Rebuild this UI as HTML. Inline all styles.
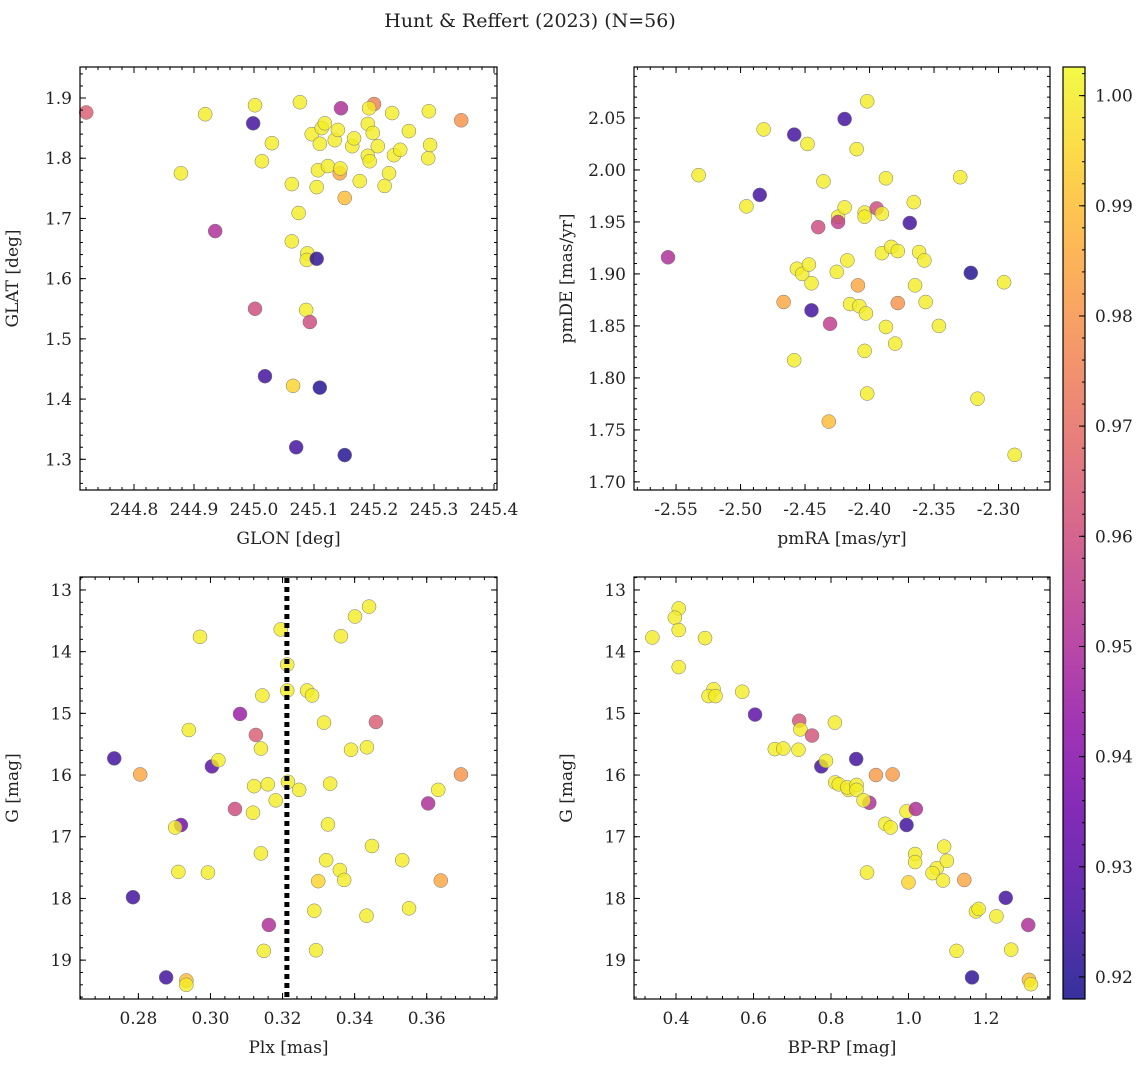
<!DOCTYPE html>
<html><head><meta charset="utf-8"><style>
body{margin:0;background:#fff;}
svg{font-family:"DejaVu Serif","Liberation Serif",serif;}
text{fill:#222;}
</style></head><body>
<svg id="c" width="1148" height="1067" viewBox="0 0 1148 1067" xmlns="http://www.w3.org/2000/svg">
<text x="530" y="27" text-anchor="middle" font-size="19">Hunt &amp; Reffert (2023) (N=56)</text>
</svg>
<script>
// Panel 1: GLON / GLAT / prob
const p1GLON=[244.7204,244.9187,244.8782,244.9353,244.9986,245.0017,245.0132,245.0298,245.0765,245.063,245.0744,245.063,245.0889,245.0879,245.1045,245.0962,245.1066,245.1045,245.1097,245.1128,245.118,245.1232,245.1346,245.1398,245.1429,245.144,245.145,245.1512,245.1637,245.1668,245.1762,245.1897,245.1897,245.1928,245.198,245.2001,245.1918,245.2063,245.2177,245.225,245.2302,245.2333,245.2437,245.2582,245.2914,245.2904,245.2935,245.3454,245.0869,245.0017,245.0931,245.0183,245.0651,245.1097,245.0703,245.1512];
const p1GLAT=[1.876,1.873,1.775,1.679,1.858,1.888,1.795,1.825,1.893,1.757,1.709,1.662,1.642,1.631,1.633,1.840,1.780,1.752,1.824,1.850,1.858,1.787,1.830,1.847,1.775,1.783,1.883,1.734,1.820,1.833,1.762,1.857,1.804,1.795,1.842,1.890,1.883,1.820,1.754,1.775,1.875,1.805,1.814,1.845,1.878,1.800,1.822,1.863,1.548,1.550,1.528,1.438,1.422,1.419,1.320,1.307];
const p1P=[0.965,1,1,0.95,0.925,1,1,1,1,1,1,1,1,1,0.922,1,1,1,1,1,1,1,1,1,0.985,1,0.95,0.99,1,1,1,1,1,1,1,0.975,1,1,1,1,1,1,1,1,1,1,1,0.98,1,0.96,0.96,0.925,0.995,0.92,0.925,0.92];
// Panel 2: pmRA / pmDE / prob
const p2RA=[-2.5562,-2.5325,-2.4954,-2.4821,-2.4851,-2.4584,-2.4481,-2.4563,-2.4522,-2.447,-2.445,-2.445,-2.4666,-2.4584,-2.4357,-2.4398,-2.4306,-2.4254,-2.4244,-2.4244,-2.4193,-2.4193,-2.4172,-2.4151,-2.41,-2.409,-2.4079,-2.4038,-2.4038,-2.4038,-2.4028,-2.4018,-2.4018,-2.3945,-2.3904,-2.3904,-2.3873,-2.3873,-2.3832,-2.3801,-2.3781,-2.3781,-2.3688,-2.3657,-2.3647,-2.3616,-2.3575,-2.3565,-2.3462,-2.3297,-2.3215,-2.3163,-2.2957,-2.2875,-2.4316];
const p2DE=[1.916,1.995,1.965,2.039,1.976,2.034,2.025,1.905,1.900,1.909,1.891,1.865,1.873,1.817,1.989,1.945,1.852,1.902,1.955,1.950,1.964,2.049,1.913,1.871,2.020,1.889,1.869,1.959,1.955,1.826,1.862,2.066,1.785,1.963,1.920,1.958,1.849,1.992,1.926,1.833,1.922,1.872,1.949,1.969,1.889,1.921,1.913,1.873,1.850,1.993,1.901,1.780,1.892,1.726,1.758];
const p2P=[0.95,1,1,1,0.925,0.925,1,1,1,1,1,0.925,0.985,1,1,0.96,0.955,1,1,0.955,1,0.925,1,1,1,0.985,1,1,1,1,1,1,1,0.96,1,1,1,1,1,1,1,0.98,0.925,1,1,1,1,1,1,1,0.92,1,1,1,0.99];
// Panel 3: Plx / G / prob
const p3PLX=[0.2733,0.2805,0.2785,0.2877,0.2918,0.2902,0.2911,0.2933,0.2933,0.2940,0.2971,0.2993,0.3004,0.3022,0.3082,0.3068,0.3118,0.3126,0.3121,0.3140,0.3144,0.3140,0.3148,0.3159,0.3162,0.3181,0.3195,0.3213,0.3213,0.3215,0.3246,0.3268,0.3282,0.3288,0.3293,0.3299,0.3315,0.3326,0.3321,0.3332,0.3359,0.3362,0.3371,0.3390,0.3401,0.3440,0.3434,0.3459,0.3448,0.3433,0.3532,0.3551,0.3604,0.3632,0.3639,0.3695];
const p3G=[15.73,15.99,17.98,19.28,16.81,16.85,17.57,19.33,19.40,15.27,13.76,17.58,15.86,15.76,15.01,16.55,16.61,15.35,16.18,15.57,14.71,17.27,18.85,16.15,18.43,16.41,13.64,14.21,14.63,16.11,16.24,14.63,14.71,18.20,18.84,17.72,15.15,16.80,17.38,16.14,17.54,13.75,17.70,15.59,13.43,13.27,15.55,15.14,17.15,18.28,17.38,18.16,16.46,16.24,17.71,15.99];
const p3P=[0.925,0.985,0.925,0.925,0.935,1,1,0.99,1,1,1,1,0.93,1,0.945,0.96,1,0.965,1,1,1,1,1,1,0.95,1,1,1,1,1,1,1,1,1,1,0.995,1,1,1,1,1,1,1,1,1,1,1,0.965,1,1,1,1,0.95,1,0.985,0.98];
// Panel 4: BP-RP / G / prob
const p4BPRP=[0.339,0.407,0.397,0.407,0.475,0.407,0.497,0.484,0.502,0.571,0.604,0.718,0.721,0.751,0.810,0.655,0.677,0.716,0.775,0.787,0.865,0.916,0.959,0.811,0.820,0.845,0.842,0.866,0.866,0.899,0.884,0.995,1.019,0.995,0.940,0.954,1.092,1.017,1.017,1.073,1.062,1.099,1.089,1.0,0.893,1.144,1.251,1.174,1.181,1.227,1.309,1.124,1.265,1.164,1.311,1.316];
const p4G=[13.77,13.30,13.45,13.65,13.78,14.25,14.61,14.72,14.72,14.65,15.02,15.12,15.26,15.36,15.15,15.58,15.57,15.59,15.86,15.77,15.74,16.0,15.99,16.12,16.15,16.24,16.20,16.16,16.24,16.45,16.41,16.59,16.55,16.81,16.79,16.85,17.16,17.28,17.41,17.51,17.59,17.39,17.71,17.74,17.58,17.70,17.99,18.21,18.17,18.29,18.43,18.85,18.83,19.28,19.32,19.39];
const p4P=[1,1,1,1,1,1,1,1,1,1,0.93,0.962,1,0.962,1,1,1,1,0.925,1,0.925,0.982,0.982,1,1,1,1,1,1,0.95,1,1,0.95,0.925,1,1,1,1,1,1,1,1,1,0.995,1,0.985,0.925,1,1,1,0.95,1,1,0.922,0.99,1];
const cbTicks=[0.92,0.93,0.94,0.95,0.96,0.97,0.98,0.99,1.00];
const plxLine=0.3212;

const NS="http://www.w3.org/2000/svg";
const svg=document.getElementById('c');
function el(t,a,p){const e=document.createElementNS(NS,t);for(const k in a)e.setAttribute(k,a[k]);(p||svg).appendChild(e);return e;}
const VMIN=0.918,VMAX=1.0026;
const stops=["#0d0887","#41049d","#6a00a8","#8f0da4","#b12a90","#cc4778","#e16462","#f2844b","#fca636","#fcce25","#f0f921"];
function hx(h){return[1,3,5].map(i=>parseInt(h.substr(i,2),16));}
function plasma(t){t=Math.max(0,Math.min(1,t));const f=t*10,i=Math.min(9,Math.floor(f)),r=f-i;const a=hx(stops[i]),b=hx(stops[i+1]);return 'rgb('+a.map((v,k)=>Math.round(v+(b[k]-v)*r)).join(',')+')';}
function cmap(v){return plasma((v-VMIN)/(VMAX-VMIN));}

function panel(name,box,xd,yd,xmaj,xmin,ymaj,ymin,xfmt,yfmt,xs,ys,ps,xl,yl){
  const [L,T,R,B]=box;
  const X=v=>L+(v-xd[0])/(xd[1]-xd[0])*(R-L);
  const Y=v=>B-(v-yd[0])/(yd[1]-yd[0])*(B-T);
  const g=el('g',{});
  
  
  const pts=el('g',{},g);
  
  
  for(let i=0;i<xs.length;i++){
    const c=el('circle',{cx:X(xs[i]),cy:Y(ys[i]),r:7,fill:cmap(ps[i]),'fill-opacity':0.8,stroke:'#777','stroke-width':0.5},pts);
    
    
  }
  const ax=el('g',{},g);
  
  
  el('rect',{x:L,y:T,width:R-L,height:B-T,fill:'none',stroke:'#000','stroke-width':1.2},ax);
  function ticks(d,step,len,isX,lab,fmt){
    const lo=Math.min(d[0],d[1]),hi=Math.max(d[0],d[1]);
    const s=Math.ceil(lo/step-1e-6);
    for(let k=s;k*step<=hi+1e-9;k++){
      const v=k*step;
      if(isX){const x=X(v);el('line',{x1:x,y1:B,x2:x,y2:B-len,stroke:'#000'},ax);el('line',{x1:x,y1:T,x2:x,y2:T+len,stroke:'#000'},ax);
        if(lab){const t=el('text',{x:x,y:B+25,'text-anchor':'middle','font-size':17},ax);t.textContent=fmt(v);}}
      else{const y=Y(v);el('line',{x1:L,y1:y,x2:L+len,y2:y,stroke:'#000'},ax);el('line',{x1:R,y1:y,x2:R-len,y2:y,stroke:'#000'},ax);
        if(lab){const t=el('text',{x:L-8,y:y+6,'text-anchor':'end','font-size':17},ax);t.textContent=fmt(v);}}
    }
  }
  ticks(xd,xmin,3,true,false);ticks(xd,xmaj,6,true,true,xfmt);
  ticks(yd,ymin,3,false,false);ticks(yd,ymaj,6,false,true,yfmt);
  const xt=el('text',{x:(L+R)/2,y:B+54,'text-anchor':'middle','font-size':17},ax);xt.textContent=xl;
  
  const yx=L-62;
  const yt=el('text',{x:yx,y:(T+B)/2,'text-anchor':'middle','font-size':17,transform:`rotate(-90 ${yx} ${(T+B)/2})`},ax);yt.textContent=yl;
  
  return {X,Y,g};
}
const f1=v=>v.toFixed(1),f2=v=>v.toFixed(2),f0=v=>v.toFixed(0);
panel('glon-glat-panel',[80,67,497,490],[244.71,245.405],[1.249,1.9515],0.1,0.02,0.1,0.02,f1,f1,p1GLON,p1GLAT,p1P,'GLON [deg]','GLAT [deg]');
panel('pm-panel',[634,67,1050,490],[-2.5826,-2.2601],[1.6922,2.099],0.05,0.01,0.05,0.01,f2,f2,p2RA,p2DE,p2P,'pmRA [mas/yr]','pmDE [mas/yr]');
const p3=panel('plx-g-panel',[80,577,497,999],[0.2638,0.3795],[19.63,12.79],0.02,0.004,1,0.2,f2,f0,p3PLX,p3G,p3P,'Plx [mas]','G [mag]');
panel('cmd-panel',[634,577,1050,999],[0.2916,1.3652],[19.63,12.79],0.2,0.04,1,0.2,f1,f0,p4BPRP,p4G,p4P,'BP-RP [mag]','G [mag]');
const dl=el('line',{x1:p3.X(plxLine),y1:578,x2:p3.X(plxLine),y2:998,stroke:'#000','stroke-width':5,'stroke-dasharray':'5,4'});


// colorbar
const cb=el('g',{});


const CL=1063,CR=1085,CT=67,CB=999;
for(let y=CT;y<CB;y++){const v=VMAX-(y-CT+0.5)/(CB-CT)*(VMAX-VMIN);el('rect',{x:CL,y:y,width:CR-CL,height:1.2,fill:cmap(v),'fill-opacity':0.8},cb);}
el('rect',{x:CL,y:CT,width:CR-CL,height:CB-CT,fill:'none',stroke:'#000','stroke-width':1.2},cb);
const CY=v=>CB-(v-VMIN)/(VMAX-VMIN)*(CB-CT);
for(let k=Math.ceil(VMIN/0.002);k*0.002<=VMAX;k++){const y=CY(k*0.002);el('line',{x1:CR,y1:y,x2:CR-3,y2:y,stroke:'#000'},cb);}
cbTicks.forEach(v=>{const y=CY(v);el('line',{x1:CR,y1:y,x2:CR-6,y2:y,stroke:'#000'},cb);
  const t=el('text',{x:CR+10,y:y+6,'font-size':17},cb);t.textContent=v.toFixed(2);
  
  });
</script>
</body></html>
